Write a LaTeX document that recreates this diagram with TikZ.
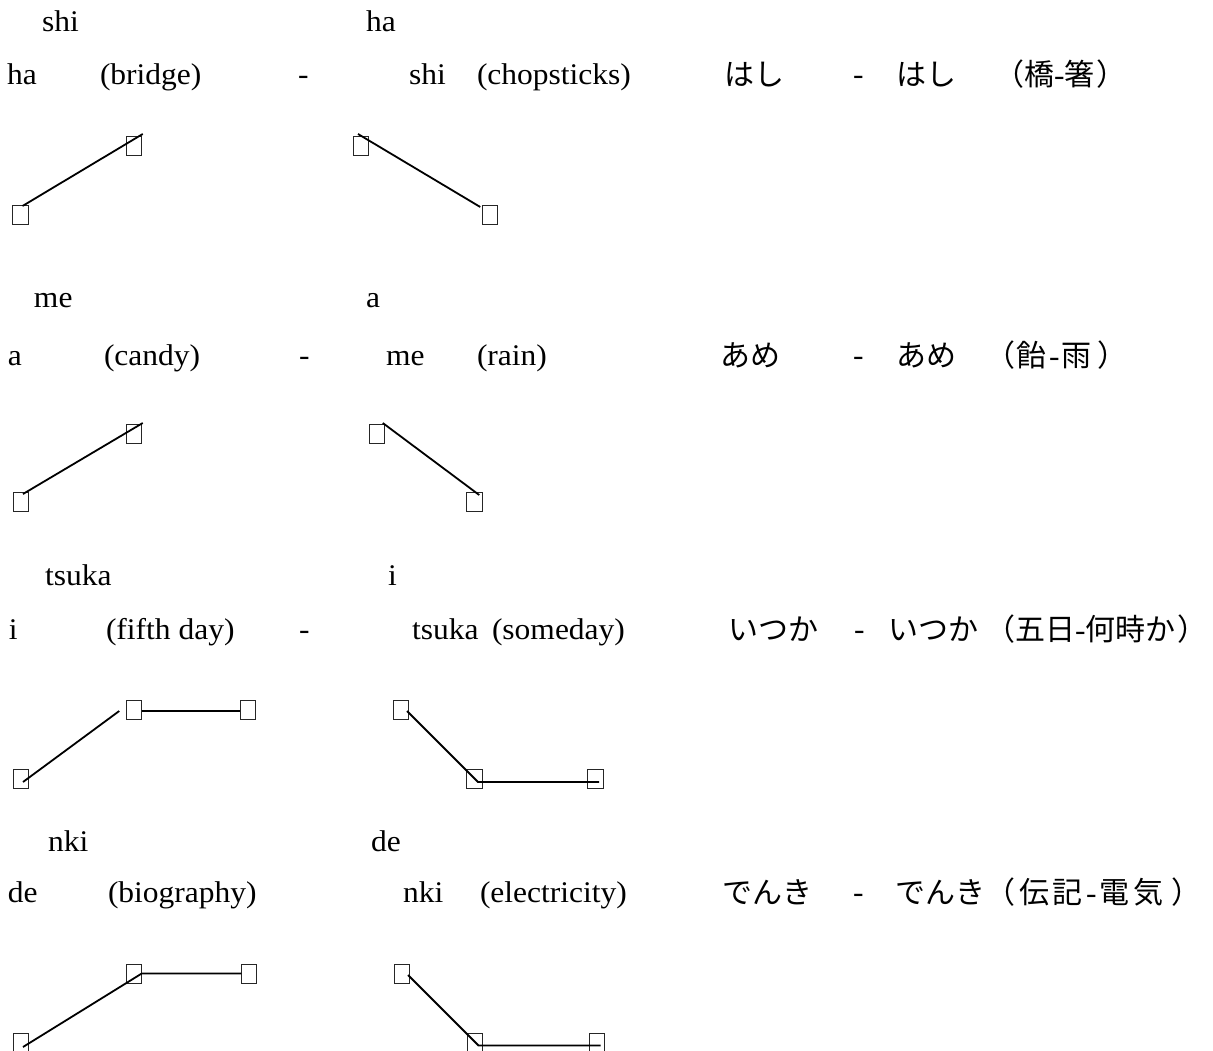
\documentclass[tikz,border=0pt]{standalone}
\usepackage{fontspec}
\setmainfont{Liberation Serif}[FakeStretch=1.05]
\newfontfamily\cjk{Noto Sans CJK JP}
\newcommand{\gp}[1]{\hspace{#1pt}}
\begin{document}
\begin{tikzpicture}[x=1pt,y=-1pt,
  txt/.style={anchor=base west, inner sep=0pt, outer sep=0pt, font=\fontsize{30}{36}\selectfont},
  jtxt/.style={anchor=base west, inner sep=0pt, outer sep=0pt, font=\fontsize{30}{36}\selectfont\cjk},
  gbox/.style={draw=black!85, line width=0.9pt, minimum width=15.5pt, minimum height=19pt, inner sep=0pt, outer sep=0pt},
  pitch/.style={draw=black, line width=1.8pt}]
\fill[white] (0,0) rectangle (1213,1051);
\useasboundingbox (0,0) rectangle (1213,1051);

% ---------- Row 1 ----------
\node[txt] (r1s1) at (42,32) {shi};
\node[txt] (r1w1) at (7,85) {ha};
\node[txt] (r1g1) at (100,85) {(bridge)};
\node[txt] (r1d) at (298,85) {-};
\node[txt] (r1s2) at (366,32) {ha};
\node[txt] (r1w2) at (409,85) {shi};
\node[txt] (r1g2) at (477,85) {(chopsticks)};
\node[jtxt] (r1j1) at (724,86) {はし};
\node[txt] (r1jd) at (853,85) {-};
\node[jtxt] (r1j2) at (896,86) {はし};
\node[jtxt] (r1j3) at (994,86) {（橋{\rmfamily -}箸\gp{2}）};

\node[gbox] (a1) at (20.5,214.5) {};
\node[gbox] (b1) at (134,145.5) {};
\node[gbox] (c1) at (361,145.5) {};
\node[gbox] (d1) at (490,214.5) {};
\draw[pitch] ([shift={(2pt,-1pt)}]a1.north) -- ([shift={(1pt,2pt)}]b1.north east);
\draw[pitch] ([shift={(-3pt,2pt)}]c1.north) -- ([shift={(-2pt,-2pt)}]d1.north west);

% ---------- Row 2 ----------
\node[txt] (r2s1) at (34,307) {me};
\node[txt] (r2w1) at (8,365) {a};
\node[txt] (r2g1) at (104,365) {(candy)};
\node[txt] (r2d) at (299,365) {-};
\node[txt] (r2s2) at (366,307) {a};
\node[txt] (r2w2) at (386,365) {me};
\node[txt] (r2g2) at (477,365) {(rain)};
\node[jtxt] (r2j1) at (720,366) {あめ};
\node[txt] (r2jd) at (853,365) {-};
\node[jtxt] (r2j2) at (896,366) {あめ};
\node[jtxt] (r2j3) at (985,366) {（\gp{2}飴\gp{2}{\rmfamily -}\gp{2}雨\gp{6}）};

\node[gbox] (a2) at (21,501.5) {};
\node[gbox] (b2) at (134,433.5) {};
\node[gbox] (c2) at (377,433.5) {};
\node[gbox] (d2) at (474.5,501.5) {};
\draw[pitch] ([shift={(2pt,-2pt)}]a2.north) -- ([shift={(1pt,1pt)}]b2.north east);
\draw[pitch] ([shift={(-2pt,1pt)}]c2.north east) -- ([shift={(-3pt,-3pt)}]d2.north east);

% ---------- Row 3 ----------
\node[txt] (r3s1) at (45,585) {tsuka};
\node[txt] (r3w1) at (9,639) {i};
\node[txt] (r3g1) at (106,639) {(fifth day)};
\node[txt] (r3d) at (299,639) {-};
\node[txt] (r3s2) at (388,585) {i};
\node[txt] (r3w2) at (412,639) {tsuka};
\node[txt] (r3g2) at (492,639) {(someday)};
\node[jtxt] (r3j1) at (728,640) {いつか};
\node[txt] (r3jd) at (854,639) {-};
\node[jtxt] (r3j2) at (888,640) {いつか};
\node[jtxt] (r3j3) at (985,640) {（五日{\rmfamily -}何時か\gp{2}）};

\node[gbox] (a3) at (21,779) {};
\node[gbox] (b3) at (134,709.5) {};
\node[gbox] (e3) at (248,709.5) {};
\node[gbox] (c3) at (401,709.5) {};
\node[gbox] (d3) at (474.5,779) {};
\node[gbox] (f3) at (595.5,779) {};
\draw[pitch] ([shift={(2pt,-3pt)}]a3.center) -- ([shift={(-7pt,-1.5pt)}]b3.west);
\draw[pitch] ([yshift=-1.5pt]b3.east) -- ([yshift=-1.5pt]e3.west);
\draw[pitch] ([shift={(6pt,-1.5pt)}]c3.center) -- ([shift={(3.5pt,-3pt)}]d3.center) -- ([shift={(3.5pt,-3pt)}]f3.center);

% ---------- Row 4 ----------
\node[txt] (r4s1) at (48,851) {nki};
\node[txt] (r4w1) at (8,902) {de};
\node[txt] (r4g1) at (108,902) {(biography)};
\node[txt] (r4s2) at (371,851) {de};
\node[txt] (r4w2) at (403,902) {nki};
\node[txt] (r4g2) at (480,902) {(electricity)};
\node[jtxt] (r4j1) at (722,903) {でんき};
\node[txt] (r4jd) at (853,902) {-};
\node[jtxt] (r4j2) at (895,903) {でんき};
\node[jtxt] (r4j3) at (985,903) {（\gp{4}伝\gp{4}記\gp{3}{\rmfamily -}\gp{3}電\gp{4}気\gp{8}）};

\node[gbox] (a4) at (21,1042.5) {};
\node[gbox] (b4) at (134,973.5) {};
\node[gbox] (e4) at (249,973.5) {};
\node[gbox] (c4) at (402,973.5) {};
\node[gbox] (d4) at (475,1042.5) {};
\node[gbox] (f4) at (597,1042.5) {};
\draw[pitch] ([shift={(2pt,-4.5pt)}]a4.center) -- (b4.east) -- (e4.west);
\draw[pitch] ([shift={(6pt,-1.5pt)}]c4.center) -- ([shift={(3.5pt,-3pt)}]d4.center) -- ([shift={(3.5pt,-3pt)}]f4.center);
\end{tikzpicture}
\end{document}
